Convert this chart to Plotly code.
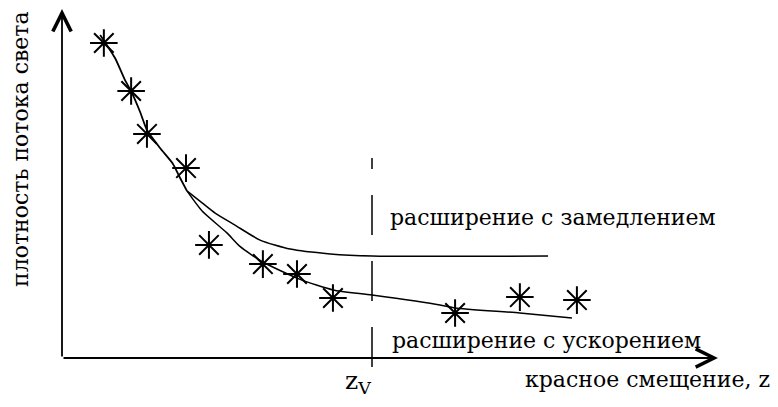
import plotly.graph_objects as go

# Observed flux points (redshift z, relative light-flux density)
obs_z = [0.135, 0.223, 0.274, 0.400, 0.474, 0.648, 0.758, 0.874, 1.268, 1.477, 1.661]
obs_flux = [1.050, 0.890, 0.747, 0.633, 0.377, 0.313, 0.280, 0.200, 0.150, 0.203, 0.193]

# Shared early part of both model curves
common_z = [0.123, 0.171, 0.203, 0.226, 0.252, 0.274, 0.316, 0.358, 0.381, 0.403]
common_flux = [1.077, 1.000, 0.927, 0.883, 0.820, 0.760, 0.700, 0.647, 0.600, 0.557]

# Decelerating expansion branch
decel_z = [0.403, 0.452, 0.494, 0.558, 0.639, 0.736, 0.865, 1.000, 1.568]
decel_flux = [0.557, 0.517, 0.483, 0.443, 0.393, 0.363, 0.347, 0.340, 0.340]

# Accelerating expansion branch
accel_z = [0.403, 0.452, 0.532, 0.574, 0.648, 0.768, 0.874, 1.000, 1.219, 1.268, 1.477, 1.645]
accel_flux = [0.557, 0.490, 0.417, 0.372, 0.320, 0.262, 0.227, 0.210, 0.177, 0.167, 0.150, 0.133]

# Transition redshift and the extent of its dashed marker
z_v = 1.0
zv_flux_span = [-0.030, 0.667]

# Axis extents (arrow tips)
x_axis_end = 2.116
y_axis_end = 1.163

INK = "black"
SERIF = "'DejaVu Serif', serif"

fig = go.Figure()

curve_line = dict(color=INK, width=1.5, shape="spline", smoothing=0.6)
fig.add_trace(go.Scatter(x=common_z, y=common_flux, mode="lines",
                         line=dict(curve_line, width=1.8), hoverinfo="skip"))
fig.add_trace(go.Scatter(x=decel_z, y=decel_flux, mode="lines",
                         line=curve_line, hoverinfo="skip"))
fig.add_trace(go.Scatter(x=accel_z, y=accel_flux, mode="lines",
                         line=curve_line, hoverinfo="skip"))

# Dashed vertical marker at z_V
fig.add_trace(go.Scatter(x=[z_v, z_v], y=zv_flux_span, mode="lines",
                         line=dict(color=INK, width=1.5, dash="40px,26px"),
                         hoverinfo="skip"))

fig.add_trace(go.Scatter(x=obs_z, y=obs_flux, mode="markers",
                         marker=dict(symbol="asterisk-open", size=23, color=INK,
                                     line=dict(color=INK, width=2)),
                         hoverinfo="skip"))

label_font = dict(family=SERIF, size=22, color=INK)

annotations = [
    # axes drawn as arrows from the origin
    dict(x=0, y=y_axis_end, ax=0, ay=0, xref="x", yref="y", axref="x", ayref="y",
         showarrow=True, arrowhead=5, arrowsize=2, arrowwidth=1.8,
         arrowcolor=INK, text=""),
    dict(x=x_axis_end, y=0, ax=0, ay=0, xref="x", yref="y", axref="x", ayref="y",
         showarrow=True, arrowhead=5, arrowsize=2, arrowwidth=1.8,
         arrowcolor=INK, text=""),
    dict(x=1.052, y=0.470, xref="x", yref="y", xanchor="left", yanchor="middle",
         text="расширение с замедлением", showarrow=False, font=label_font),
    dict(x=1.058, y=0.058, xref="x", yref="y", xanchor="left", yanchor="middle",
         text="расширение с ускорением", showarrow=False, font=label_font),
    dict(x=1.487, y=-0.070, xref="x", yref="y", xanchor="left", yanchor="middle",
         text="красное смещение, z", showarrow=False, font=label_font),
    dict(x=0.905, y=-0.080, xref="x", yref="y", xanchor="left", yanchor="middle",
         text="z<sub>V</sub>", showarrow=False,
         font=dict(family=SERIF, size=25, color=INK)),
    dict(x=-0.132, y=0.697, xref="x", yref="y", xanchor="center", yanchor="middle",
         text="плотность потока света", textangle=-90, showarrow=False,
         font=label_font),
]

fig.update_layout(
    width=778, height=407,
    margin=dict(l=0, r=0, t=0, b=0),
    paper_bgcolor="white", plot_bgcolor="white",
    showlegend=False,
    annotations=annotations,
    xaxis=dict(range=[-0.2, 2.3097], visible=False, fixedrange=True),
    yaxis=dict(range=[-0.1633, 1.1933], visible=False, fixedrange=True),
)

fig.write_html("out.html")
